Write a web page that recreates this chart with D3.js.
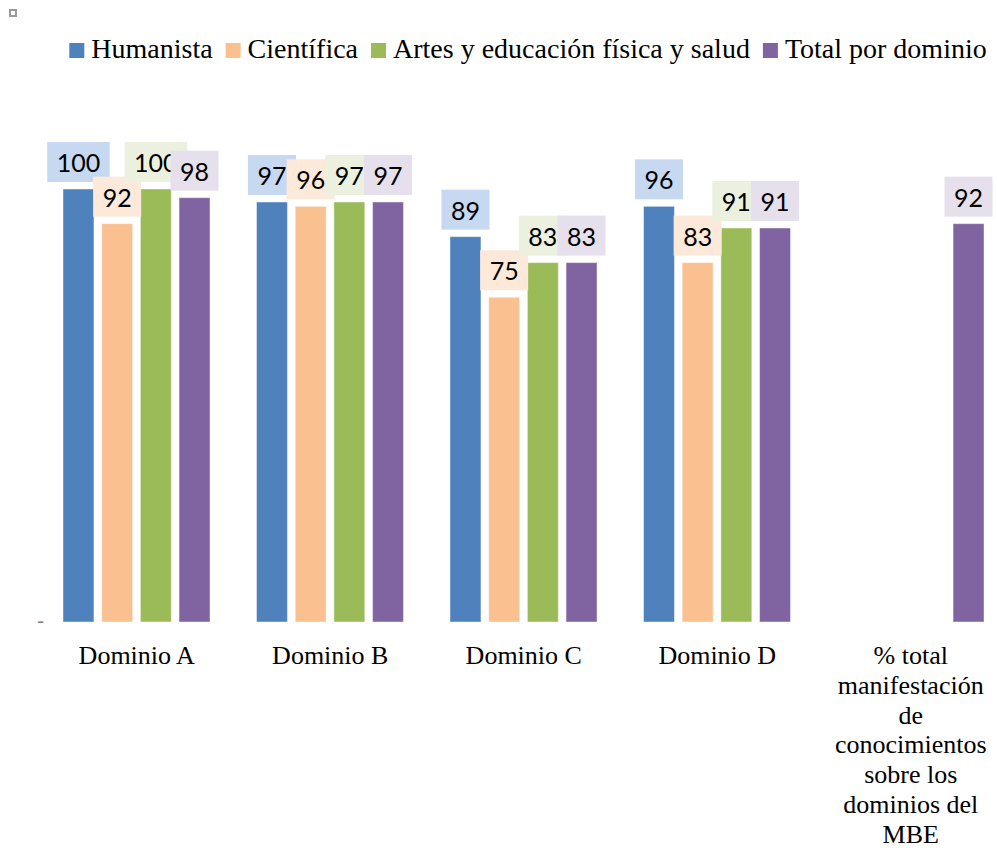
<!DOCTYPE html>
<html>
<head>
<meta charset="utf-8">
<script src="https://cdn.jsdelivr.net/npm/d3@7/dist/d3.min.js"></script>
<style>
  html, body { margin: 0; padding: 0; background: #fff; }
  svg { display: block; }
</style>
</head>
<body>
<svg id="chart" width="997" height="851"></svg>
<script>
// ---- data ----
const categories = ["Dominio A", "Dominio B", "Dominio C", "Dominio D",
  "% total manifestación de conocimientos sobre los dominios del MBE"];
const seriesNames = ["Humanista", "Científica", "Artes y educación física y salud", "Total por dominio"];
const humanista = [100, 97, 89, 96, null];
const cientifica = [92, 96, 75, 83, null];
const artes = [100, 97, 83, 91, null];
const totalDominio = [98, 97, 83, 91, 92];
const yTickValues = [0];
const yTickLabels = ["-"];

const seriesValues = [humanista, cientifica, artes, totalDominio];
const barColors = ["#4f81bd", "#fac090", "#9bbb59", "#8064a2"];
const boxColors = ["#c6d9f1", "#fde9d9", "#ebf1de", "#e5e0ec"];

const svg = d3.select("#chart");
const serif = "'Liberation Serif', 'Times New Roman', serif";
const sans = "Lato, 'Noto Sans', sans-serif";

// selection handle icon top-left
svg.append("rect").attr("x", 10).attr("y", 10).attr("width", 6).attr("height", 6)
  .attr("fill", "#fff").attr("stroke", "#9a9a9a").attr("stroke-width", 2);

// ---- scales ----
const x0 = d3.scaleBand().domain(categories).range([40, 1007.5]).paddingInner(0).paddingOuter(0);
const x1 = d3.scaleBand().domain(seriesNames).range([23, 170]).paddingInner(0.2).paddingOuter(0);
const y = d3.scaleLinear().domain([0, 100]).range([622, 189]);

// ---- y axis (only zero label "-") ----
const yAxis = d3.axisLeft(y).tickValues(yTickValues).tickSize(0)
  .tickFormat((d, i) => yTickLabels[i]);
const yg = svg.append("g").attr("transform", "translate(47,0)").call(yAxis);
yg.select(".domain").remove();
yg.selectAll("text").attr("font-family", serif).attr("font-size", 20).attr("fill", "#7f7f7f")
  .attr("dx", 0).attr("dy", "0.2em");

// ---- bars ----
const groups = svg.append("g").selectAll("g").data(categories).join("g")
  .attr("transform", d => `translate(${x0(d)},0)`);

const barData = (c, ci) => seriesNames.map((s, si) => ({ s, si, v: seriesValues[si][ci] }))
  .filter(d => d.v !== null);

groups.each(function (c, ci) {
  const g = d3.select(this);
  const data = barData(c, ci);
  g.selectAll("rect.bar").data(data).join("rect").attr("class", "bar")
    .attr("x", d => x1(d.s)).attr("width", x1.bandwidth())
    .attr("y", d => y(d.v)).attr("height", d => y(0) - y(d.v))
    .attr("fill", d => barColors[d.si])
    .attr("stroke", "rgba(255,255,255,0.45)").attr("stroke-width", 1);
});

// ---- data labels ----
groups.each(function (c, ci) {
  const g = d3.select(this);
  const data = barData(c, ci);
  data.forEach(d => {
    const cx = x1(d.s) + x1.bandwidth() / 2;
    const lg = g.append("g");
    const t = lg.append("text").text(d.v)
      .attr("font-family", sans).attr("font-size", 25).attr("fill", "#000")
      .attr("text-anchor", "middle").attr("x", cx);
    const w = t.node().getComputedTextLength() + 19;
    const bottom = y(d.v) - 7;
    lg.insert("rect", "text").attr("x", cx - w / 2).attr("y", bottom - 40)
      .attr("width", w).attr("height", 40).attr("fill", boxColors[d.si]);
    t.attr("y", bottom - 10);
  });
});

// ---- x axis labels ----
const xAxis = d3.axisBottom(x0).tickSize(0).tickPadding(0);
const xg = svg.append("g").attr("transform", `translate(0,${y(0)})`).call(xAxis);
xg.select(".domain").remove();
xg.selectAll("text").attr("font-family", serif).attr("font-size", 26).attr("fill", "#000")
  .attr("y", 0).attr("dy", 0);

function wrap(textSel, width) {
  textSel.each(function () {
    const text = d3.select(this);
    const words = text.text().split(/\s+/);
    text.text(null);
    let line = [];
    let lineNo = 0;
    let tspan = text.append("tspan").attr("x", 0).attr("y", 42);
    words.forEach(word => {
      line.push(word);
      tspan.text(line.join(" "));
      if (tspan.node().getComputedTextLength() > width && line.length > 1) {
        line.pop();
        tspan.text(line.join(" "));
        line = [word];
        lineNo++;
        tspan = text.append("tspan").attr("x", 0).attr("y", 42 + lineNo * 29.8).text(word);
      }
    });
  });
}
xg.selectAll("text").call(wrap, 162);

// ---- legend ----
const legend = svg.append("g");
let lx = 0;
const items = [];
seriesNames.forEach((s, i) => {
  const it = legend.append("g");
  it.append("rect").attr("x", 0).attr("y", 43).attr("width", 15).attr("height", 15)
    .attr("fill", barColors[i]);
  const t = it.append("text").text(s).attr("x", 22).attr("y", 58)
    .attr("font-family", serif).attr("font-size", 28).attr("fill", "#000");
  const w = 22 + t.node().getComputedTextLength();
  items.push({ it, w });
});
const gap = 13;
const totalW = d3.sum(items, d => d.w) + gap * (items.length - 1);
lx = 528 - totalW / 2;
items.forEach(d => { d.it.attr("transform", `translate(${lx},0)`); lx += d.w + gap; });
</script>
</body>
</html>
